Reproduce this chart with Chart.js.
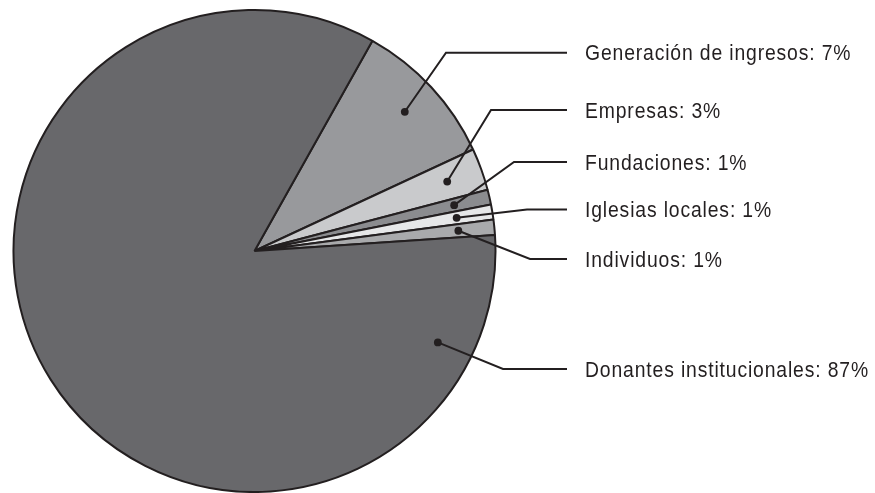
<!DOCTYPE html>
<html>
<head>
<meta charset="utf-8">
<script src="https://cdn.jsdelivr.net/npm/chart.js"></script>
<style>
  html, body { margin: 0; padding: 0; background: #fff; }
  #wrap { position: relative; width: 875px; height: 493px; }
</style>
</head>
<body>
<div id="wrap"><canvas id="pieChart"></canvas></div>
<script>
// categories and values
var categories = ['Generación de ingresos', 'Empresas', 'Fundaciones', 'Iglesias locales', 'Individuos', 'Donantes institucionales'];
// share of the circle as drawn
var shares = [9.94, 2.83, 1.0, 1.0, 1.03, 84.2];
// percentages as printed in the labels
var labelPercents = [7, 3, 1, 1, 1, 87];
var sliceColors = ['#98999c', '#c9cacc', '#8b8c8f', '#e6e7e8', '#a9aaac', '#68686b'];

// label layout (leader elbows, line heights, where the dot sits in the slice)
var elbowX = [446, 491, 514, 527, 530, 503];
var lineY = [52.7, 110, 162, 209.5, 259, 369];
var dotFrac = [0.5, 0.5, 0.5, 0.5, 0.5, 0.1];
var lineEndX = 567, textX = 585;
var ink = '#231f20';

var leaderLabels = {
    id: 'leaderLabels',
    afterDraw: function(chart) {
        var ctx = chart.ctx;
        var arcs = chart.getDatasetMeta(0).data;
        ctx.save();
        ctx.strokeStyle = ink;
        ctx.fillStyle = ink;
        ctx.lineWidth = 2;
        arcs.forEach(function(arc, i) {
            var p = arc.getProps(['x', 'y', 'startAngle', 'endAngle', 'outerRadius'], true);
            var a = p.startAngle + (p.endAngle - p.startAngle) * dotFrac[i];
            var r = p.outerRadius * 0.85;
            var dx = p.x + Math.cos(a) * r;
            var dy = p.y + Math.sin(a) * r;
            ctx.beginPath();
            ctx.moveTo(dx, dy);
            ctx.lineTo(elbowX[i], lineY[i]);
            ctx.lineTo(lineEndX, lineY[i]);
            ctx.stroke();
            ctx.beginPath();
            ctx.arc(dx, dy, 3.9, 0, Math.PI * 2);
            ctx.fill();
            // condensed look: squeeze a regular sans horizontally
            ctx.save();
            ctx.translate(textX, lineY[i] + 7.7);
            ctx.scale(0.9, 1);
            ctx.font = '21.5px "Liberation Sans", Arial, sans-serif';
            ctx.letterSpacing = '0.95px';
            ctx.textBaseline = 'alphabetic';
            ctx.fillText(categories[i] + ': ' + labelPercents[i] + '%', 0, 0);
            ctx.restore();
        });
        ctx.restore();
    }
};

new Chart(document.getElementById('pieChart'), {
    type: 'pie',
    data: {
        labels: categories,
        datasets: [{
            data: shares,
            backgroundColor: sliceColors,
            borderColor: ink,
            borderWidth: 2,
            hoverBorderWidth: 2,
            hoverOffset: 0
        }]
    },
    options: {
        responsive: true,
        maintainAspectRatio: false,
        animation: false,
        rotation: 29.3,
        layout: { padding: { left: 12.5, right: 378.5, top: 9, bottom: 0 } },
        plugins: {
            legend: { display: false },
            tooltip: { enabled: false }
        }
    },
    plugins: [leaderLabels]
});
</script>
</body>
</html>
